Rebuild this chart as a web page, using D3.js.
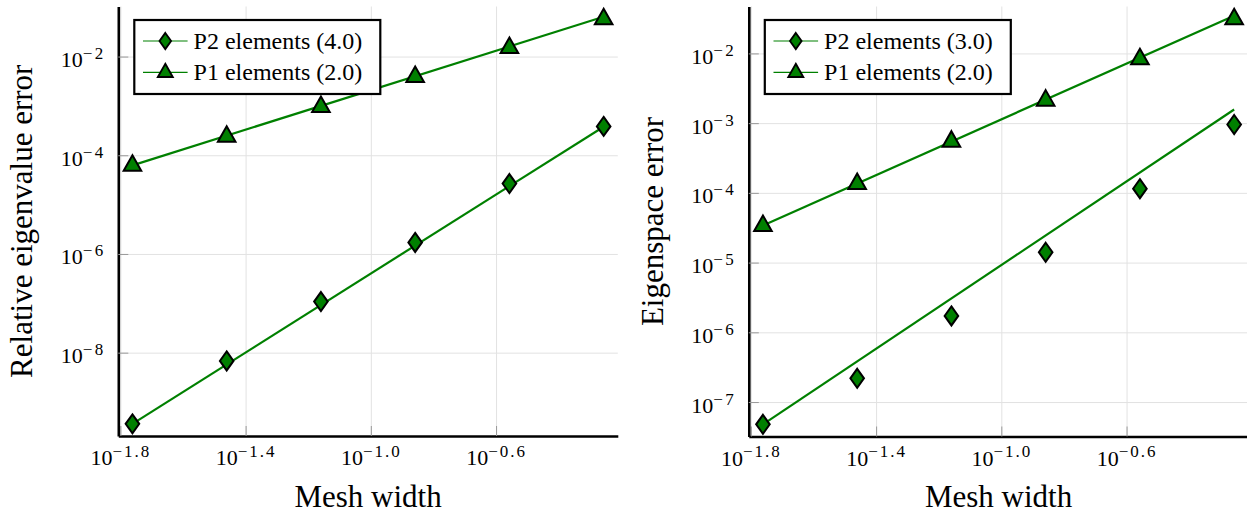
<!DOCTYPE html>
<html><head><meta charset="utf-8">
<script src="https://cdn.jsdelivr.net/npm/d3@7"></script>
<style>
body{margin:0;background:#fff;overflow:hidden}
svg{display:block}
svg text, svg tspan{font-family:"Liberation Serif","Times New Roman",serif !important;}
</style>
</head><body>
<svg id="c" width="1247" height="514"></svg>
<script>
// ---- data ----
const meshWidth = [0.01732, 0.03464, 0.06928, 0.13856, 0.27713, 0.55426];
const eigP2 = [3.61e-10, 6.79e-9, 1.084e-7, 1.71e-6, 2.667e-5, 3.846e-4];
const eigP1 = [6.25e-5, 2.43e-4, 9.75e-4, 3.94e-3, 1.52e-2, 5.86e-2];
const espP2 = [4.79e-8, 2.19e-7, 1.718e-6, 1.406e-5, 1.148e-4, 9.55e-4];
const espP1 = [3.40e-5, 1.365e-4, 5.52e-4, 2.138e-3, 8.39e-3, 3.15e-2];
const eigRates = [4.0, 2.0];
const espRates = [3.0, 2.0];
const seriesNames = ["P2 elements", "P1 elements"];
const xTickExponents = [-1.8, -1.4, -1.0, -0.6];
const eigYTickExponents = [-8, -6, -4, -2];
const espYTickExponents = [-7, -6, -5, -4, -3, -2];
const yLabels = ["Relative eigenvalue error", "Eigenspace error"];
const xLabel = "Mesh width";

// ---- style ----
const GREEN = "#008000";
const svg = d3.select("#c");

function logPad(vals) {
  const lo = Math.log10(d3.min(vals)), hi = Math.log10(d3.max(vals));
  const p = (hi - lo) * 0.03;
  return [Math.pow(10, lo - p), Math.pow(10, hi + p)];
}
const minus = s => s.replace("-", "\u2212");

const diamond = "M0,-9.5L6.8,0L0,9.5L-6.8,0Z";
const triangle = "M0,-10L8.8,5.5L-8.8,5.5Z";
const shapes = [diamond, triangle];

function panel(o) {
  const x = d3.scaleLog().domain(logPad(meshWidth)).range([o.x0, o.x1]);
  const y = d3.scaleLog().domain(logPad(o.p2.concat(o.p1))).range([o.y1, o.y0]);
  const g = svg.append("g");
  const H = o.y1 - o.y0, W = o.x1 - o.x0;
  const xt = xTickExponents.map(e => Math.pow(10, e));
  const yt = o.yExp.map(e => Math.pow(10, e));

  // grid
  g.append("g").attr("transform", `translate(0,${o.y1})`)
    .call(d3.axisBottom(x).tickValues(xt).tickSize(-H).tickFormat(""))
    .call(a => { a.select(".domain").remove(); a.selectAll("line").attr("stroke", "#e2e2e2").attr("stroke-width", 1); });
  g.append("g").attr("transform", `translate(${o.x0},0)`)
    .call(d3.axisLeft(y).tickValues(yt).tickSize(-W).tickFormat(""))
    .call(a => { a.select(".domain").remove(); a.selectAll("line").attr("stroke", "#e2e2e2").attr("stroke-width", 1); });

  // reference lines + markers
  const series = [o.p2, o.p1];
  const line = d3.line().x(d => x(d[0])).y(d => y(d[1]));
  series.forEach((vals, k) => {
    const h0 = meshWidth[0], v0 = vals[0], r = o.rates[k];
    const pts = [meshWidth[0], meshWidth[meshWidth.length - 1]].map(h => [h, v0 * Math.pow(h / h0, r)]);
    g.append("path").attr("d", line(pts)).attr("fill", "none").attr("stroke", GREEN).attr("stroke-width", 2.2);
  });
  series.forEach((vals, k) => {
    g.append("g").selectAll("path").data(vals).join("path")
      .attr("transform", (d, i) => `translate(${x(meshWidth[i])},${y(d)})`)
      .attr("d", shapes[k]).attr("fill", GREEN).attr("stroke", "#000").attr("stroke-width", 2).attr("stroke-linejoin", "miter");
  });

  // axes
  g.append("g").attr("transform", `translate(0,${o.y1})`)
    .call(d3.axisBottom(x).tickValues(xt).tickSizeInner(-10).tickSizeOuter(0))
    .call(a => {
      a.attr("font-family", null).attr("font-size", null);
      a.select(".domain").attr("stroke", "#000").attr("stroke-width", 2.6);
      a.selectAll(".tick line").attr("stroke", "#999").attr("stroke-width", 1);
      a.selectAll(".tick text").each(function (d) {
        const t = d3.select(this);
        const e = Math.log10(d);
        t.text(null).attr("y", 29).attr("dy", null).attr("fill", "#000")
          .style("font-size", "22px").attr("text-anchor", "middle");
        t.append("tspan").text("10");
        t.append("tspan").attr("dy", -8.5).style("font-size", "17px").style("letter-spacing", "2px").text(minus(e.toFixed(1)));
      });
    });
  g.append("g").attr("transform", `translate(${o.x0},0)`)
    .call(d3.axisLeft(y).tickValues(yt).tickSizeInner(-10).tickSizeOuter(0))
    .call(a => {
      a.attr("font-family", null).attr("font-size", null);
      a.select(".domain").attr("stroke", "#000").attr("stroke-width", 2.6);
      a.selectAll(".tick line").attr("stroke", "#999").attr("stroke-width", 1);
      a.selectAll(".tick text").each(function (d) {
        const t = d3.select(this);
        const e = Math.round(Math.log10(d));
        t.text(null).attr("x", -12.5).attr("y", 10).attr("dy", null).attr("fill", "#000")
          .style("font-size", "22px").attr("text-anchor", "end");
        t.append("tspan").text("10");
        t.append("tspan").attr("dy", -8).style("font-size", "17px").style("letter-spacing", "2.5px").text(minus(String(e)));
      });
    });

  // axis titles
  g.append("text").attr("x", (o.x0 + o.x1) / 2).attr("y", 507).attr("text-anchor", "middle")
    .style("font-size", "31px").attr("fill", "#000").text(xLabel);
  g.append("text").attr("transform", `translate(${o.ylabX},${(o.y0 + o.y1) / 2}) rotate(-90)`)
    .attr("text-anchor", "middle").style("font-size", "31px").attr("fill", "#000").text(o.ylabel);

  // legend
  const lx = o.x0 + 16, ly = 20;
  const lg = g.append("g").attr("transform", `translate(${lx},${ly})`);
  lg.append("rect").attr("width", 246).attr("height", 74).attr("fill", "#fff").attr("stroke", "#000").attr("stroke-width", 2.2);
  [0, 1].forEach(k => {
    const ry = k === 0 ? 21 : 52.3;
    lg.append("line").attr("x1", 8.7).attr("x2", 53.3).attr("y1", ry).attr("y2", ry).attr("stroke", GREEN).attr("stroke-width", 1.2);
    lg.append("path").attr("d", shapes[k]).attr("transform", `translate(31,${ry}) scale(0.85)`)
      .attr("fill", GREEN).attr("stroke", "#000").attr("stroke-width", 2.2);
    lg.append("text").attr("x", 59.3).attr("y", ry + 7.5).style("font-size", "24px").attr("fill", "#000")
      .text(`${seriesNames[k]} (${o.rates[k].toFixed(1)})`);
  });
}

panel({ x0: 118.3, x1: 617.8, y0: 6.5, y1: 436, p2: eigP2, p1: eigP1, rates: eigRates,
        yExp: eigYTickExponents, ylabel: yLabels[0], ylabX: 31.7 });
panel({ x0: 748.8, x1: 1248.3, y0: 6.5, y1: 436.5, p2: espP2, p1: espP1, rates: espRates,
        yExp: espYTickExponents, ylabel: yLabels[1], ylabX: 663.3 });
</script>
</body></html>
